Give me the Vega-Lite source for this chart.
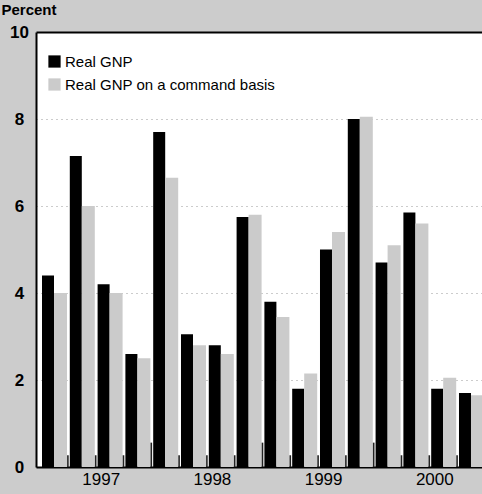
{
  "$schema": "https://vega.github.io/schema/vega-lite/v6.json",
  "width": 446,
  "height": 435,
  "autosize": "none",
  "padding": {"left": 36, "top": 32, "right": 0, "bottom": 27},
  "background": "#cccccc",
  "config": {"view": {"fill": "white", "stroke": null}, "font": "Liberation Sans"},
  "datasets": {
    "gnp": [
      {"q": 1, "series": "Real GNP", "value": 4.4},
      {"q": 2, "series": "Real GNP", "value": 7.15},
      {"q": 3, "series": "Real GNP", "value": 4.2},
      {"q": 4, "series": "Real GNP", "value": 2.6},
      {"q": 5, "series": "Real GNP", "value": 7.7},
      {"q": 6, "series": "Real GNP", "value": 3.05},
      {"q": 7, "series": "Real GNP", "value": 2.8},
      {"q": 8, "series": "Real GNP", "value": 5.75},
      {"q": 9, "series": "Real GNP", "value": 3.8},
      {"q": 10, "series": "Real GNP", "value": 1.8},
      {"q": 11, "series": "Real GNP", "value": 5.0},
      {"q": 12, "series": "Real GNP", "value": 8.0},
      {"q": 13, "series": "Real GNP", "value": 4.7},
      {"q": 14, "series": "Real GNP", "value": 5.85},
      {"q": 15, "series": "Real GNP", "value": 1.8},
      {"q": 16, "series": "Real GNP", "value": 1.7},
      {"q": 1, "series": "Real GNP on a command basis", "value": 4.0},
      {"q": 2, "series": "Real GNP on a command basis", "value": 6.0},
      {"q": 3, "series": "Real GNP on a command basis", "value": 4.0},
      {"q": 4, "series": "Real GNP on a command basis", "value": 2.5},
      {"q": 5, "series": "Real GNP on a command basis", "value": 6.65},
      {"q": 6, "series": "Real GNP on a command basis", "value": 2.8},
      {"q": 7, "series": "Real GNP on a command basis", "value": 2.6},
      {"q": 8, "series": "Real GNP on a command basis", "value": 5.8},
      {"q": 9, "series": "Real GNP on a command basis", "value": 3.45},
      {"q": 10, "series": "Real GNP on a command basis", "value": 2.15},
      {"q": 11, "series": "Real GNP on a command basis", "value": 5.4},
      {"q": 12, "series": "Real GNP on a command basis", "value": 8.05},
      {"q": 13, "series": "Real GNP on a command basis", "value": 5.1},
      {"q": 14, "series": "Real GNP on a command basis", "value": 5.6},
      {"q": 15, "series": "Real GNP on a command basis", "value": 2.05},
      {"q": 16, "series": "Real GNP on a command basis", "value": 1.65}
    ],
    "ticks": [
      {"pos": 1.5, "len": 0.27},
      {"pos": 2.5, "len": 0.27},
      {"pos": 3.5, "len": 0.27},
      {"pos": 4.5, "len": 0.56},
      {"pos": 5.5, "len": 0.27},
      {"pos": 6.5, "len": 0.27},
      {"pos": 7.5, "len": 0.27},
      {"pos": 8.5, "len": 0.56},
      {"pos": 9.5, "len": 0.27},
      {"pos": 10.5, "len": 0.27},
      {"pos": 11.5, "len": 0.27},
      {"pos": 12.5, "len": 0.56},
      {"pos": 13.5, "len": 0.27},
      {"pos": 14.5, "len": 0.27},
      {"pos": 15.5, "len": 0.27}
    ]
  },
  "layer": [
    {
      "data": {"name": "gnp"},
      "transform": [{"filter": "datum.series == 'Real GNP'"}],
      "mark": {"type": "bar", "orient": "vertical", "size": 12, "xOffset": -6},
      "encoding": {
        "x": {
          "field": "q", "type": "quantitative",
          "scale": {"domain": [0.3525, 16.396], "nice": false, "zero": false, "padding": 0},
          "axis": {
            "values": [2.5, 6.5, 10.5, 14.5],
            "labelExpr": "'' + (floor((datum.value + 1.5) / 4) + 1996)",
            "title": null, "ticks": false, "grid": false,
            "domainColor": "black", "domainWidth": 2,
            "labelFontSize": 17, "labelColor": "black",
            "labelPadding": 4, "labelOffset": 5, "labelFlush": false
          }
        },
        "y": {
          "field": "value", "type": "quantitative",
          "scale": {"domain": [0, 10], "nice": false, "padding": 0},
          "axis": {
            "title": "Percent", "titleAngle": 0, "titleAlign": "left", "titleBaseline": "top",
            "titleX": -35, "titleY": -30, "titleFontSize": 15, "titleFontWeight": "bold", "titleColor": "black",
            "values": [0, 2, 4, 6, 8, 10],
            "labelFontSize": 17, "labelFontWeight": "bold", "labelColor": "black",
            "labelAlign": "center", "labelPadding": 17, "ticks": false,
            "domainColor": "black", "domainWidth": 2,
            "grid": true,
            "gridColor": {"condition": {"test": "datum.value == 10", "value": "black"}, "value": "#999999"},
            "gridDash": {"condition": {"test": "datum.value == 10", "value": []}, "value": [1, 4]},
            "gridWidth": {"condition": {"test": "datum.value == 10", "value": 2}, "value": 1}
          }
        },
        "color": {
          "field": "series", "type": "nominal",
          "scale": {"domain": ["Real GNP", "Real GNP on a command basis"], "range": ["#000000", "#cbcbcb"]},
          "legend": {
            "orient": "none", "legendX": 11, "legendY": 22, "title": null, "padding": 0,
            "symbolType": "square", "symbolSize": 150, "symbolStrokeWidth": 0,
            "labelFontSize": 15, "labelColor": "black", "rowPadding": 7, "labelOffset": 3, "labelLimit": 0
          }
        }
      }
    },
    {
      "data": {"name": "gnp"},
      "transform": [{"filter": "datum.series != 'Real GNP'"}],
      "mark": {"type": "bar", "orient": "vertical", "size": 13, "xOffset": 6.5},
      "encoding": {
        "x": {"field": "q", "type": "quantitative"},
        "y": {"field": "value", "type": "quantitative"},
        "color": {"field": "series", "type": "nominal"}
      }
    },
    {
      "data": {"name": "ticks"},
      "mark": {"type": "bar", "orient": "vertical", "size": 1.6, "color": "#222222"},
      "encoding": {
        "x": {"field": "pos", "type": "quantitative"},
        "y": {"field": "len", "type": "quantitative"}
      }
    }
  ]
}
